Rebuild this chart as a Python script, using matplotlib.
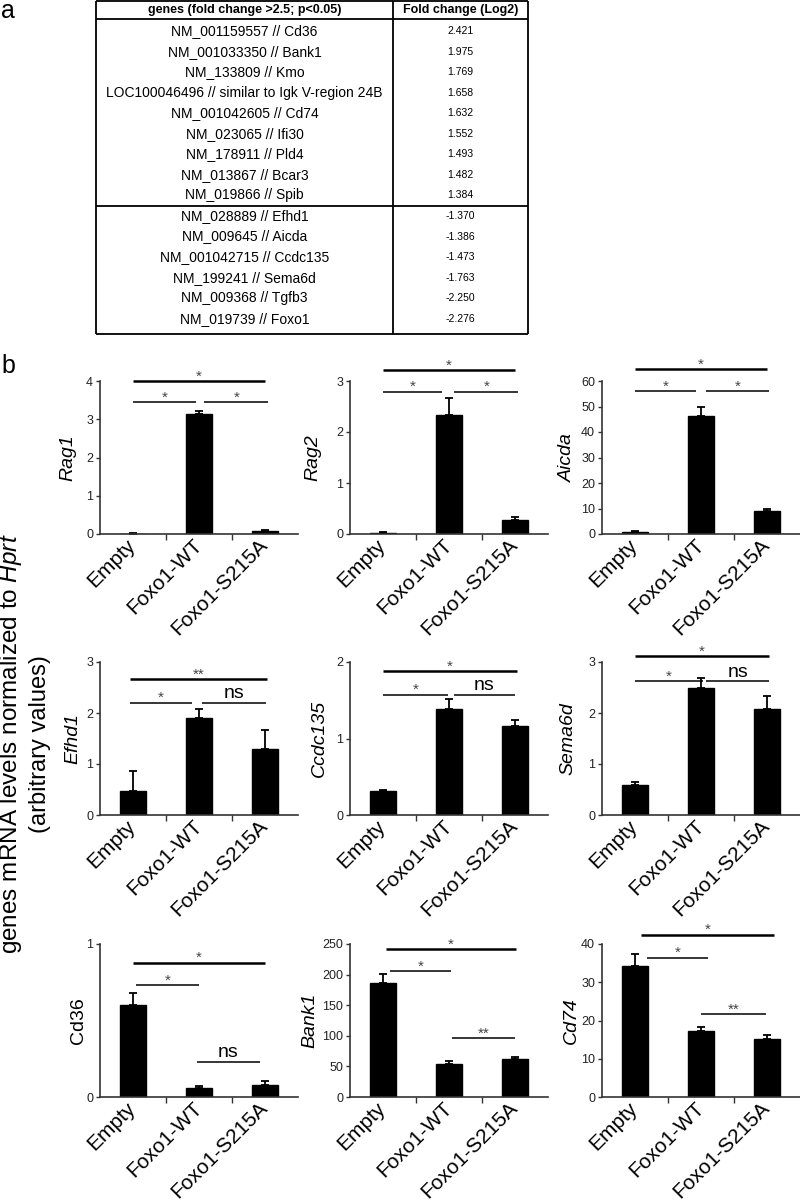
import numpy as np
import matplotlib.pyplot as plt
from matplotlib.transforms import ScaledTranslation

plt.rcParams['font.family'] = ['Liberation Sans', 'DejaVu Sans']
plt.rcParams['mathtext.fontset'] = 'custom'
plt.rcParams['mathtext.rm'] = 'Liberation Sans'
plt.rcParams['mathtext.it'] = 'Liberation Sans:italic'

# panel a: microarray table
genes_up = ["NM_001159557 // Cd36", "NM_001033350 // Bank1", "NM_133809 // Kmo",
            "LOC100046496 // similar to Igk V-region 24B", "NM_001042605 // Cd74",
            "NM_023065 // Ifi30", "NM_178911 // Pld4", "NM_013867 // Bcar3",
            "NM_019866 // Spib"]
fold_up = ["2.421", "1.975", "1.769", "1.658", "1.632", "1.552", "1.493", "1.482", "1.384"]
genes_down = ["NM_028889 // Efhd1", "NM_009645 // Aicda", "NM_001042715 // Ccdc135",
              "NM_199241 // Sema6d", "NM_009368 // Tgfb3", "NM_019739 // Foxo1"]
fold_down = ["-1.370", "-1.386", "-1.473", "-1.763", "-2.250", "-2.276"]

# panel b: qPCR bars
groups = ["Empty", "Foxo1-WT", "Foxo1-S215A"]
genes = ["Rag1", "Rag2", "Aicda", "Efhd1", "Ccdc135", "Sema6d", "Cd36", "Bank1", "Cd74"]
means = [[0.01, 3.15, 0.07], [0.02, 2.34, 0.27], [0.9, 46.3, 8.9],
         [0.47, 1.91, 1.29], [0.31, 1.39, 1.16], [0.58, 2.50, 2.08],
         [0.60, 0.06, 0.08], [186, 54, 62], [34.2, 17.3, 15.1]]
errs = [[0.005, 0.06, 0.04], [0.015, 0.32, 0.07], [0.1, 3.6, 0.75],
        [0.40, 0.16, 0.38], [0.02, 0.13, 0.08], [0.06, 0.19, 0.25],
        [0.078, 0.015, 0.026], [15.6, 4.4, 2.8], [3.3, 1.1, 1.2]]
ymax = [4, 3, 60, 3, 2, 3, 1, 250, 40]
ystep = [1, 1, 10, 1, 1, 1, 1, 50, 10]
# significance brackets: (x from, x to, y, label)
brackets = [
    [(0, 2, 4.0, '*'), (0, 0.95, 3.45, '*'), (1.08, 2.05, 3.45, '*')],
    [(0, 2, 3.21, '*'), (0, 0.9, 2.79, '*'), (1.08, 2.05, 2.79, '*')],
    [(0, 2, 64.6, '*'), (0, 0.93, 56, '*'), (1.08, 2.03, 56, '*')],
    [(-0.05, 2.03, 2.66, '**'), (-0.05, 0.9, 2.20, '*'), (1.05, 2.02, 2.20, 'ns')],
    [(0, 2.03, 1.88, '*'), (0, 0.98, 1.57, '*'), (1.07, 2.0, 1.57, 'ns')],
    [(0, 2.03, 3.11, '*'), (0, 1.03, 2.62, '*'), (1.08, 2.03, 2.62, 'ns')],
    [(0, 2, 0.878, '*'), (0.05, 1.0, 0.732, '*'), (0.97, 1.92, 0.232, 'ns')],
    [(0.04, 2.02, 241.8, '*'), (0.11, 1.03, 205.5, '*'), (1.05, 2.0, 96.2, '**')],
    [(0.09, 2.1, 42.4, '*'), (0.18, 1.1, 36.4, '*'), (1.0, 1.98, 21.6, '**')],
]

W, H = 800, 1201
fig = plt.figure(figsize=(W / 100, H / 100), dpi=100)

# background axes in pixel coords for table and labels
bg = fig.add_axes([0, 0, 1, 1])
bg.set_xlim(0, W)
bg.set_ylim(H, 0)
bg.axis('off')

tl, tm, tr = 96, 393, 528
ttop, thead, tbot = 1, 19, 334
row0, rowh = 31, 20.55
lk = dict(color='black', lw=1.3, solid_capstyle='butt')
bg.plot([tl, tr], [ttop, ttop], **lk)
bg.plot([tl, tr], [thead, thead], **lk)
bg.plot([tl, tr], [tbot, tbot], **lk)
split = row0 + rowh * (len(genes_up) - 0.5)
bg.plot([tl, tr], [split, split], **lk)
for xv in (tl, tm, tr):
    bg.plot([xv, xv], [ttop, tbot], **lk)
cg, cf = (tl + tm) / 2, (tm + tr) / 2
bg.text(cg, (ttop + thead) / 2, "genes (fold change >2.5; p<0.05)", fontsize=9,
        fontweight='bold', ha='center', va='center')
bg.text(cf, (ttop + thead) / 2, "Fold change (Log2)", fontsize=9,
        fontweight='bold', ha='center', va='center')
for i, (g, f) in enumerate(zip(genes_up + genes_down, fold_up + fold_down)):
    y = row0 + rowh * i
    bg.text(cg, y, g, fontsize=10, ha='center', va='center')
    bg.text(cf, y, f, fontsize=7.5, ha='center', va='center')

bg.text(8, 11, "a", fontsize=18, ha='center', va='center')
bg.text(8, 366, "b", fontsize=18, ha='center', va='center')

bg.text(11, 744, "genes mRNA levels normalized to $\\mathit{Hprt}$", fontsize=17.5,
        rotation=90, ha='center', va='center')
bg.text(40, 744, "(arbitrary values)", fontsize=17, rotation=90,
        ha='center', va='center')

lefts = [100, 350, 602]
tops = [381, 662, 944]
aw, ah = 198, 153
label_off = [32, 37, 35, 27, 31, 34, 21, 40, 31]
xlabel_shift = [0, 7, 14]   # px, longer labels sit further right

x = np.arange(len(groups))
for k, gene in enumerate(genes):
    r, c = divmod(k, 3)
    ax = fig.add_axes([lefts[c] / W, (H - tops[r] - ah) / H, aw / W, ah / H])
    m = np.array(means[k])
    e = np.array(errs[k])
    ax.bar(x, m, width=0.4, color='black', edgecolor='black',
           yerr=[np.zeros_like(e), e], capsize=3,
           error_kw=dict(elinewidth=1.3, capthick=1.3, ecolor='black'))
    ax.set_xlim(-0.5, 2.5)
    ax.set_ylim(0, ymax[k])
    ax.set_yticks(np.arange(0, ymax[k] + ystep[k] / 2, ystep[k]))
    ax.set_xticks(x)
    ax.set_xticklabels(groups, rotation=45, ha='right', va='center',
                       rotation_mode='anchor', fontsize=15)
    for lab, dx in zip(ax.get_xticklabels(), xlabel_shift):
        lab.set_transform(lab.get_transform() +
                          ScaledTranslation(dx / 100, 0, fig.dpi_scale_trans))
    ax.set_xticks([0.5, 1.5], minor=True)
    ax.tick_params(axis='x', which='major', length=0, pad=6)
    ax.tick_params(axis='x', which='minor', length=4, width=1, color='#333')
    ax.tick_params(axis='y', length=3, width=1, color='#333', labelsize=9,
                   pad=2, labelcolor='#222')
    for s in ('top', 'right'):
        ax.spines[s].set_visible(False)
    for s in ('left', 'bottom'):
        ax.spines[s].set_color('#333')
        ax.spines[s].set_linewidth(1.2)
    style = 'normal' if gene == 'Cd36' else 'italic'
    ax.text(-label_off[k] / aw, 0.5, gene, transform=ax.transAxes, rotation=90,
            ha='center', va='center', fontsize=14, fontstyle=style)
    for j, (x1, x2, yb, lab) in enumerate(brackets[k]):
        ax.plot([x1, x2], [yb, yb], color='black', lw=1.8 if j == 0 else 1.1,
                clip_on=False, solid_capstyle='butt')
        if lab == 'ns':
            ax.annotate(lab, ((x1 + x2) / 2, yb), xytext=(0, 3.5),
                        textcoords='offset points', ha='center', va='baseline',
                        fontsize=14, annotation_clip=False)
        else:
            ax.annotate(lab, ((x1 + x2) / 2, yb), xytext=(0, 0.5),
                        textcoords='offset points', ha='center', va='baseline',
                        fontsize=11, color='#444', annotation_clip=False)

fig.savefig("out.png", dpi=100)
